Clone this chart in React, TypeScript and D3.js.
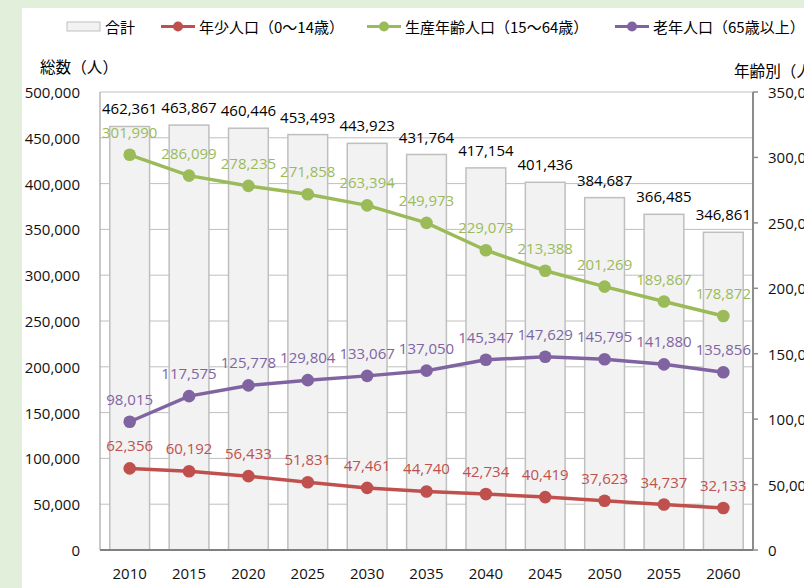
import React from "react";
import * as d3 from "d3";

const years = ["2010", "2015", "2020", "2025", "2030", "2035", "2040", "2045", "2050", "2055", "2060"];
const totals = [462361, 463867, 460446, 453493, 443923, 431764, 417154, 401436, 384687, 366485, 346861];
const young = [62356, 60192, 56433, 51831, 47461, 44740, 42734, 40419, 37623, 34737, 32133];
const working = [301990, 286099, 278235, 271858, 263394, 249973, 229073, 213388, 201269, 189867, 178872];
const elderly = [98015, 117575, 125778, 129804, 133067, 137050, 145347, 147629, 145795, 141880, 135856];
const leftTicks = [0, 50000, 100000, 150000, 200000, 250000, 300000, 350000, 400000, 450000, 500000];
const rightTicks = [0, 50000, 100000, 150000, 200000, 250000, 300000, 350000];

const totalLabel = "合計";
const seriesNames = ["年少人口（0～14歳）", "生産年齢人口（15～64歳）", "老年人口（65歳以上）"];
const leftTitle = "総数（人）";
const rightTitle = "年齢別（人）";

const COLORS = { young: "#C0504D", working: "#9BBB59", elderly: "#8064A2" };
const NUM_FONT = "'Open Sans', 'Noto Sans', sans-serif";
const CJK_FONT = "'Noto Sans CJK JP', 'Noto Sans', sans-serif";

const W = 804;
const H = 588;
const plot = { left: 100, right: 753, top: 92, bottom: 550 };

export default function App() {
  const fmt = d3.format(",");
  const x = d3
    .scaleBand<string>()
    .domain(years)
    .range([plot.left, plot.right])
    .paddingInner(0.33)
    .paddingOuter(0.165);
  const yL = d3.scaleLinear().domain([0, 500000]).range([plot.bottom, plot.top]);
  const yR = d3.scaleLinear().domain([0, 350000]).range([plot.bottom, plot.top]);
  const cx = (yr: string) => (x(yr) as number) + x.bandwidth() / 2;

  const series = [
    { key: "young", data: young, color: COLORS.young },
    { key: "working", data: working, color: COLORS.working },
    { key: "elderly", data: elderly, color: COLORS.elderly },
  ];

  const lineGen = d3
    .line<number>()
    .x((_, i) => cx(years[i]))
    .y((d) => yR(d));

  const legendItems = [
    { name: seriesNames[0], color: COLORS.young, x: 161, tx: 199 },
    { name: seriesNames[1], color: COLORS.working, x: 367, tx: 405 },
    { name: seriesNames[2], color: COLORS.elderly, x: 615, tx: 653 },
  ];

  return (
    <svg
      width={W}
      height={H}
      style={{ position: "absolute", left: 0, top: 0, display: "block" }}
      xmlns="http://www.w3.org/2000/svg"
    >
      <rect x={0} y={0} width={W} height={H} fill="#E2EFDA" />
      <rect x={22} y={8} width={W - 22} height={H - 8} fill="#FFFFFF" />

      {/* legend */}
      <g>
        <rect x={67} y={22} width={33} height={9} fill="#F2F2F2" stroke="#BFBFBF" strokeWidth={1} />
        <text x={105} y={26.5} dominantBaseline="central" fontFamily={CJK_FONT} fontSize={15} fill="#000">
          {totalLabel}
        </text>
        {legendItems.map((it) => (
          <g key={it.name}>
            <line x1={it.x} x2={it.x + 34} y1={26.5} y2={26.5} stroke={it.color} strokeWidth={3} />
            <circle cx={it.x + 17} cy={26.5} r={5} fill={it.color} />
            <text x={it.tx} y={26.5} dominantBaseline="central" fontFamily={CJK_FONT} fontSize={15} fill="#000">
              {it.name}
            </text>
          </g>
        ))}
      </g>

      {/* axis titles */}
      <text x={40} y={66} dominantBaseline="central" fontFamily={CJK_FONT} fontSize={15.6} fill="#000">
        {leftTitle}
      </text>
      <text x={734} y={70} dominantBaseline="central" fontFamily={CJK_FONT} fontSize={15.6} fill="#000">
        {rightTitle}
      </text>

      {/* gridlines */}
      {leftTicks
        .filter((t) => t > 0)
        .map((t) => (
          <line key={t} x1={plot.left} x2={plot.right} y1={yL(t)} y2={yL(t)} stroke="#BFBFBF" strokeWidth={1} />
        ))}

      {/* bars */}
      {years.map((yr, i) => (
        <rect
          key={yr}
          x={x(yr)}
          y={yL(totals[i])}
          width={x.bandwidth()}
          height={plot.bottom - yL(totals[i])}
          fill="#F2F2F2"
          stroke="#BFBFBF"
          strokeWidth={1.5}
        />
      ))}

      {/* left axis */}
      <line x1={plot.left} x2={plot.left} y1={plot.top} y2={plot.bottom} stroke="#A6A6A6" strokeWidth={1.2} />
      {leftTicks.map((t) => (
        <text
          key={t}
          x={80}
          y={yL(t)}
          dominantBaseline="central"
          textAnchor="end"
          fontFamily={NUM_FONT}
          fontSize={15}
          fill="#111"
        >
          {fmt(t)}
        </text>
      ))}

      {/* right axis */}
      <line x1={plot.right} x2={plot.right} y1={plot.top} y2={plot.bottom} stroke="#8C8C8C" strokeWidth={2} />
      {rightTicks.map((t) => (
        <g key={t}>
          <line x1={plot.right} x2={plot.right + 5} y1={yR(t)} y2={yR(t)} stroke="#8C8C8C" strokeWidth={1.5} />
          <text
            x={768}
            y={yR(t)}
            dominantBaseline="central"
            fontFamily={NUM_FONT}
            fontSize={15}
            fill="#111"
          >
            {fmt(t)}
          </text>
        </g>
      ))}

      {/* bottom axis */}
      <line x1={plot.left} x2={plot.right} y1={plot.bottom} y2={plot.bottom} stroke="#808080" strokeWidth={2} />
      {years.map((yr) => (
        <text
          key={yr}
          x={cx(yr)}
          y={573}
          dominantBaseline="central"
          textAnchor="middle"
          fontFamily={NUM_FONT}
          fontSize={15}
          fill="#111"
        >
          {yr}
        </text>
      ))}

      {/* total labels */}
      {years.map((yr, i) => (
        <text
          key={yr}
          x={cx(yr)}
          y={yL(totals[i]) - 12}
          textAnchor="middle"
          fontFamily={NUM_FONT}
          fontSize={15}
          fill="#000"
        >
          {fmt(totals[i])}
        </text>
      ))}

      {/* lines */}
      {series.map((s) => (
        <g key={s.key}>
          <path d={lineGen(s.data) as string} fill="none" stroke={s.color} strokeWidth={3.5} />
          {s.data.map((v, i) => (
            <circle key={i} cx={cx(years[i])} cy={yR(v)} r={6.3} fill={s.color} />
          ))}
          {s.data.map((v, i) => (
            <text
              key={"l" + i}
              x={cx(years[i])}
              y={yR(v) - 17}
              textAnchor="middle"
              fontFamily={NUM_FONT}
              fontSize={15}
              fill={s.color}
            >
              {fmt(v)}
            </text>
          ))}
        </g>
      ))}
    </svg>
  );
}
